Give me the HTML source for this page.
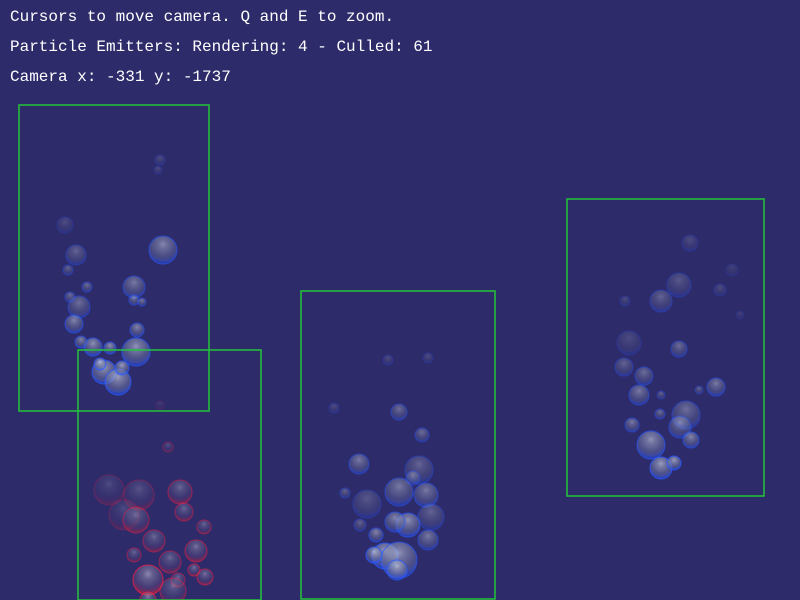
<!DOCTYPE html>
<html><head><meta charset="utf-8">
<style>
html,body{margin:0;padding:0;background:#2e2b6b;width:800px;height:600px;overflow:hidden}
.t{position:absolute;left:10px;color:#fff;font:16px "Courier New","Liberation Mono",monospace;white-space:pre}
svg{position:absolute;left:0;top:0}
</style></head><body>
<div class="t" style="top:8px">Cursors to move camera. Q and E to zoom.</div>
<div class="t" style="top:38px">Particle Emitters: Rendering: 4 - Culled: 61</div>
<div class="t" style="top:68px">Camera x: -331 y: -1737</div>
<svg id="s" width="800" height="600">
<defs>
<radialGradient id="gb" cx="0.5" cy="0.3" r="0.65"><stop offset="0" stop-color="#f0f4ff"/><stop offset="0.25" stop-color="#b0b8d0"/><stop offset="0.7" stop-color="#6870a0"/><stop offset="0.88" stop-color="#5068d0"/><stop offset="1" stop-color="#2050ff"/></radialGradient>
<radialGradient id="gr" cx="0.5" cy="0.3" r="0.65"><stop offset="0" stop-color="#e8e0f0"/><stop offset="0.25" stop-color="#9890b0"/><stop offset="0.7" stop-color="#5a4a80"/><stop offset="0.88" stop-color="#a03060"/><stop offset="1" stop-color="#ff2030"/></radialGradient>
</defs>
<g id="bub"></g>
<g id="boxes"></g>
</svg>
<script>
const boxes=[[19,105,190,306],[78,350,183,250],[301,291,194,308],[567,199,197,297]];
const blue=[[163,250,14,.8],[134,287,11,.7],[76,255,10,.5],[65,225,8,.3],[160,160,5,.3],[158,170,4,.3],[79,307,11,.6],[74,324,9,.8],[134,300,5,.7],[142,302,4,.7],[87,287,5,.6],[70,297,5,.6],[137,330,7,.8],[136,352,14,.9],[93,347,9,.9],[110,348,6,.9],[81,342,6,.8],[104,372,12,1],[118,382,13,1],[122,368,7,1],[100,364,6,1],[68,270,5,.5],
[399,412,8,.6],[422,435,7,.6],[359,464,10,.7],[419,470,14,.5],[413,478,7,.6],[399,492,14,.7],[426,495,12,.7],[367,504,14,.4],[431,517,13,.5],[408,525,12,.9],[395,522,10,.8],[428,540,10,.7],[376,535,7,.8],[385,556,13,1],[399,560,18,.9],[397,570,10,1],[374,555,8,1],[345,493,5,.5],[334,408,5,.3],[388,360,5,.3],[428,358,5,.3],[360,525,6,.5],
[690,243,8,.3],[679,285,12,.4],[661,301,11,.5],[625,301,5,.3],[720,290,6,.3],[629,343,12,.3],[679,349,8,.6],[644,376,9,.6],[624,367,9,.5],[639,395,10,.7],[716,387,9,.7],[661,395,4,.5],[699,390,4,.5],[686,415,14,.6],[680,427,11,.7],[691,440,8,.8],[651,445,14,.9],[661,468,11,1],[674,463,7,1],[632,425,7,.7],[660,414,5,.6],[740,315,4,.2],[732,270,6,.2]];
const red=[[109,490,15,.3],[139,495,15,.4],[180,492,12,.6],[124,515,15,.3],[136,520,13,.6],[184,512,9,.6],[154,541,11,.6],[204,527,7,.6],[196,551,11,.7],[134,555,7,.6],[148,580,15,.9],[170,562,11,.6],[178,580,7,.6],[205,577,8,.7],[194,570,6,.7],[173,591,13,.6],[168,447,5,.4],[160,405,4,.2],[148,600,8,.8]];
const NS="http://www.w3.org/2000/svg";
const bg=document.getElementById('bub');
function add(list,g,rim){list.forEach(b=>{const c=document.createElementNS(NS,'circle');


c.setAttribute('cx',b[0]);c.setAttribute('cy',b[1]);c.setAttribute('r',b[2]);c.setAttribute('fill','url(#'+g+')');c.setAttribute('fill-opacity','0.7');c.setAttribute('stroke',rim);c.setAttribute('stroke-width','1');c.setAttribute('opacity',b[3]*0.8);bg.appendChild(c);});}
add(red,'gr','#ff2040');add(blue,'gb','#2a5cff');
const bx=document.getElementById('boxes');
boxes.forEach(b=>{const r=document.createElementNS(NS,'rect');


r.setAttribute('x',b[0]);r.setAttribute('y',b[1]);r.setAttribute('width',b[2]);r.setAttribute('height',b[3]);r.setAttribute('fill','none');r.setAttribute('stroke','#22c43a');r.setAttribute('stroke-width','1.5');bx.appendChild(r);});
</script>
</body></html>
